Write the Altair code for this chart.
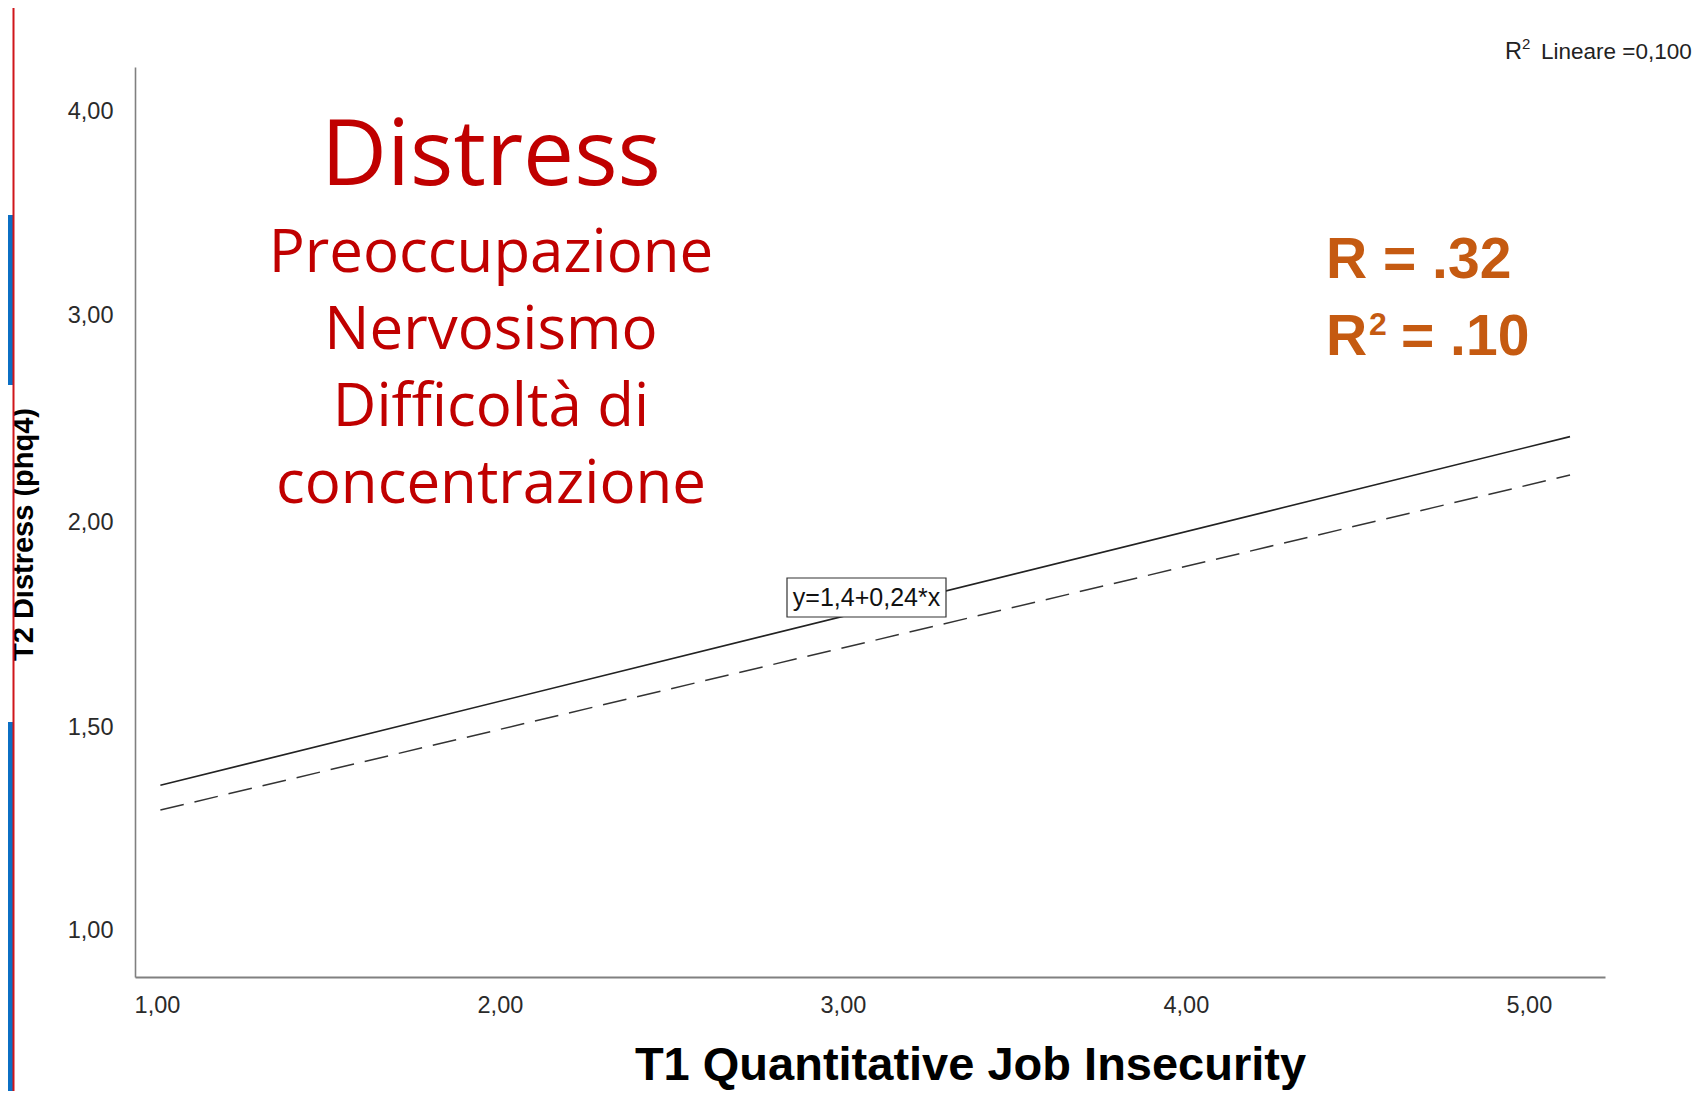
import altair as alt
import pandas as pd

# ---- data ----
x_ends = [1.01, 5.12]              # T1 Quantitative Job Insecurity (line ends)
fit_solid = [1.357, 2.413]         # solid fit line
fit_dashed = [1.296, 2.227]        # dashed line
x_ticks = [1.0, 2.0, 3.0, 4.0, 5.0]
y_ticks = [1.0, 1.5, 2.0, 3.0, 4.0]
y_domain = [0.887, 1.0, 1.5, 2.0, 3.0, 4.0, 4.218]
title_lines = ["Preoccupazione", "Nervosismo", "Difficoltà di", "concentrazione"]
equation = "y=1,4+0,24*x"
r2_legend = "Lineare =0,100"

W, H = 1470, 910
y_range = [910, 863.5, 660, 455, 248.3, 44.5, 0]

df_solid = pd.DataFrame({"x": x_ends, "y": fit_solid})
df_dash = pd.DataFrame({"x": x_ends, "y": fit_dashed})

lab = "replace(format(datum.value, '.2f'), '.', ',')"
xs = alt.Scale(domain=[0.936, 5.222], nice=False, zero=False)
ys = alt.Scale(domain=y_domain, range=y_range, nice=False, zero=False)

x_enc = alt.X("x:Q", scale=xs, axis=alt.Axis(
    values=x_ticks, labelExpr=lab, ticks=False, grid=False,
    domainColor="#808080", domainWidth=2.2,
    labelFont="Liberation Sans", labelFontSize=23.5, labelColor="#2a2a2a",
    labelPadding=16, labelFlush=False,
    title="T1 Quantitative Job Insecurity", titleFont="Liberation Sans",
    titleFontSize=47, titleFontWeight="bold", titleColor="#000000",
    titleX=835, titleY=102, titleAlign="center", titleBaseline="alphabetic"))
y_enc = alt.Y("y:Q", scale=ys, axis=alt.Axis(
    values=y_ticks, labelExpr=lab, ticks=False, grid=False,
    domainColor="#808080", domainWidth=1.6,
    labelFont="Liberation Sans", labelFontSize=23.5, labelColor="#2a2a2a",
    labelPadding=22, labelFlush=False, title=None))

solid = alt.Chart(df_solid).mark_line(color="#222222", strokeWidth=1.6).encode(x=x_enc, y=y_enc)
dashed = alt.Chart(df_dash).mark_line(color="#333333", strokeWidth=1.5,
                                      strokeDash=[24, 11]).encode(x=x_enc, y=y_enc)

one = pd.DataFrame({"a": [0]})

def txt(text, px, py, **kw):
    return alt.Chart(pd.DataFrame({"t": [text]})).mark_text(**kw).encode(
        text="t:N", x=alt.value(px), y=alt.value(py))

eq_box = alt.Chart(one).mark_rect(fill="white", stroke="#333333", strokeWidth=1.2).encode(
    x=alt.value(652), x2=alt.value(811), y=alt.value(511), y2=alt.value(550))
eq_txt = txt(equation, 731.5, 531, font="Liberation Sans", fontSize=25, color="#111111",
             align="center", baseline="middle")

red = "#C00000"
big = txt("Distress", 356, 118, font="Open Sans", fontSize=91, color=red,
          align="center", baseline="alphabetic")
sub = txt("\n".join(title_lines), 356, 205, font="Open Sans", fontSize=60, color=red,
          align="center", baseline="alphabetic", lineBreak="\n", lineHeight=77)

orange = "#C55A11"
r1 = txt("R = .32", 1191, 211, font="Liberation Sans", fontSize=57, fontWeight="bold",
         color=orange, align="left", baseline="alphabetic")
r2a = txt("R", 1191, 288, font="Liberation Sans", fontSize=57, fontWeight="bold",
          color=orange, align="left", baseline="alphabetic")
r2b = txt("2", 1234, 268, font="Liberation Sans", fontSize=32, fontWeight="bold",
          color=orange, align="left", baseline="alphabetic")
r2c = txt("= .10", 1266, 288, font="Liberation Sans", fontSize=57, fontWeight="bold",
          color=orange, align="left", baseline="alphabetic")

lg1 = txt("R", 1370, -8.5, font="Liberation Sans", fontSize=23.5, color="#222222",
          align="left", baseline="alphabetic")
lg2 = txt("2", 1387, -18, font="Liberation Sans", fontSize=15, color="#222222",
          align="left", baseline="alphabetic")
lg3 = txt(r2_legend, 1406, -8.5, font="Liberation Sans", fontSize=22.5, color="#222222",
          align="left", baseline="alphabetic")

ytitle = txt("T2 Distress (phq4)", -102, 467.5, font="Liberation Sans", fontSize=29,
             fontWeight="bold", color="#000000", angle=270, align="center",
             baseline="alphabetic")

# slide frame decoration on the left edge
BOT = 114
cover = alt.Chart(one).mark_rect(fill="white").encode(
    x=alt.value(-127), x2=alt.value(-122), y=alt.value(-59), y2=alt.value(H + BOT))
blue1 = alt.Chart(one).mark_rect(fill="#0b6fc4").encode(
    x=alt.value(-127), x2=alt.value(-122), y=alt.value(148), y2=alt.value(318))
blue2 = alt.Chart(one).mark_rect(fill="#0b6fc4").encode(
    x=alt.value(-127), x2=alt.value(-122), y=alt.value(655), y2=alt.value(H + BOT))
frame = alt.Chart(one).mark_rule(color="#d0161b", strokeWidth=2).encode(
    x=alt.value(-121.5), y=alt.value(-59), y2=alt.value(H + BOT))

chart = alt.layer(
    dashed, solid, eq_box, eq_txt, big, sub, r1, r2a, r2b, r2c, lg1, lg2, lg3,
    ytitle, cover, blue1, blue2, frame
).properties(
    width=W, height=H,
    autosize=alt.AutoSizeParams(type="none"),
    padding={"left": 127, "top": 59, "right": 88, "bottom": BOT},
    background="white",
).configure_view(stroke=None)

chart.save("out.html", embed_options={"renderer": "svg", "actions": False})
